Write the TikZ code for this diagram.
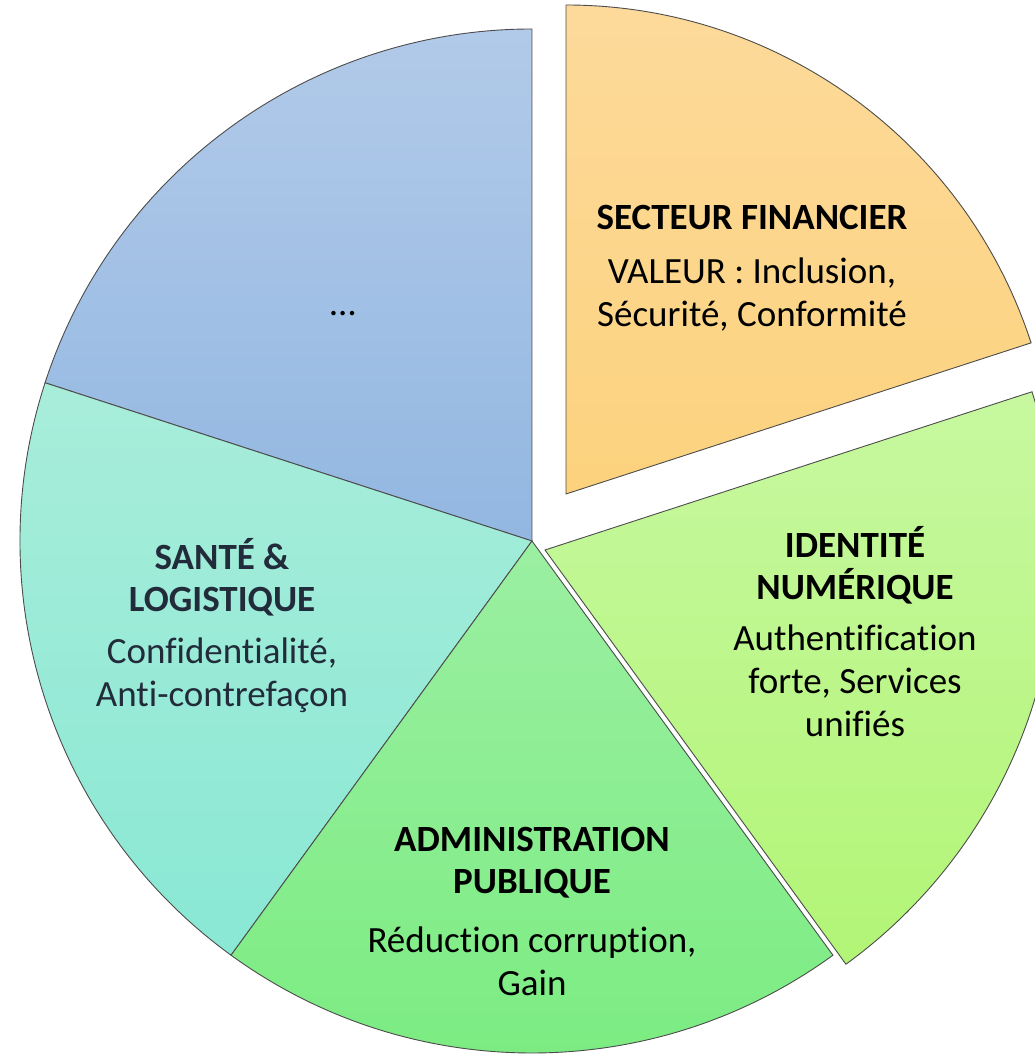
\documentclass[tikz,border=0pt]{standalone}
\usepackage{fontspec}
\setmainfont{Carlito}[RawFeature={-liga;-clig;-calt}]
\definecolor{blueT}{RGB}{178,202,233}
\definecolor{blueB}{RGB}{146,183,225}
\definecolor{orT}{RGB}{253,218,155}
\definecolor{orB}{RGB}{252,210,125}
\definecolor{idT}{RGB}{199,248,160}
\definecolor{idB}{RGB}{178,245,118}
\definecolor{adT}{RGB}{155,239,162}
\definecolor{adB}{RGB}{122,236,128}
\definecolor{saT}{RGB}{168,237,218}
\definecolor{saB}{RGB}{137,232,212}
\definecolor{slate}{RGB}{34,43,58}
\begin{document}
\begin{tikzpicture}[x=1pt,y=1pt,
  slice/.style={draw=black!70, line width=0.9pt},
  ttl/.style={font=\bfseries\fontsize{37}{42}\selectfont, align=center, inner sep=0pt},
  bdy/.style={font=\fontsize{37}{43}\selectfont, align=center, inner sep=0pt}]
\useasboundingbox (0,0) rectangle (1035,1054);
\begin{scope}
\clip (0,0) rectangle (1035,1054);
\coordinate (C) at (532,513);
\coordinate (Cid) at (545,504);
\coordinate (Cor) at (566,560);
% blue
\path[slice, top color=blueT, bottom color=blueB] (C) -- ++(90:512) arc[start angle=90,end angle=162,radius=512] -- cycle;
% sante
\path[slice, top color=saT, bottom color=saB] (C) -- ++(162:512) arc[start angle=162,end angle=234,radius=512] -- cycle;
% admin
\path[slice, top color=adT, bottom color=adB] (C) -- ++(234:512) arc[start angle=234,end angle=306,radius=512] -- cycle;
% identity
\path[slice, top color=idT, bottom color=idB] (Cid) -- ++(-54:512) arc[start angle=-54,end angle=18,radius=512] -- cycle;
% orange
\path[slice, top color=orT, bottom color=orB] (Cor) -- ++(18:489) arc[start angle=18,end angle=90,radius=489] -- cycle;
\end{scope}
% labels
\node[ttl] (finT) at (752,836) {SECTEUR FINANCIER};
\node[bdy] (finB) at (752,759) {VALEUR : Inclusion,\\Sécurité, Conformité};
\node[bdy] (dots) at (343,740) {…};
\node[ttl] (idT) at (855,489) {IDENTITÉ\\NUMÉRIQUE};
\node[bdy] (idB) at (855,373) {Authentification\\forte, Services\\unifiés};
\node[ttl, text=slate] (saT) at (222,477) {SANTÉ \&\\LOGISTIQUE};
\node[bdy, text=slate] (saB) at (222,379) {Confidentialité,\\Anti-contrefaçon};
\node[ttl] (adT) at (532,191) {ADMINISTRATION\\PUBLIQUE};
\node[bdy] (adB) at (532,93) {Réduction corruption,\\Gain};
\end{tikzpicture}
\end{document}
